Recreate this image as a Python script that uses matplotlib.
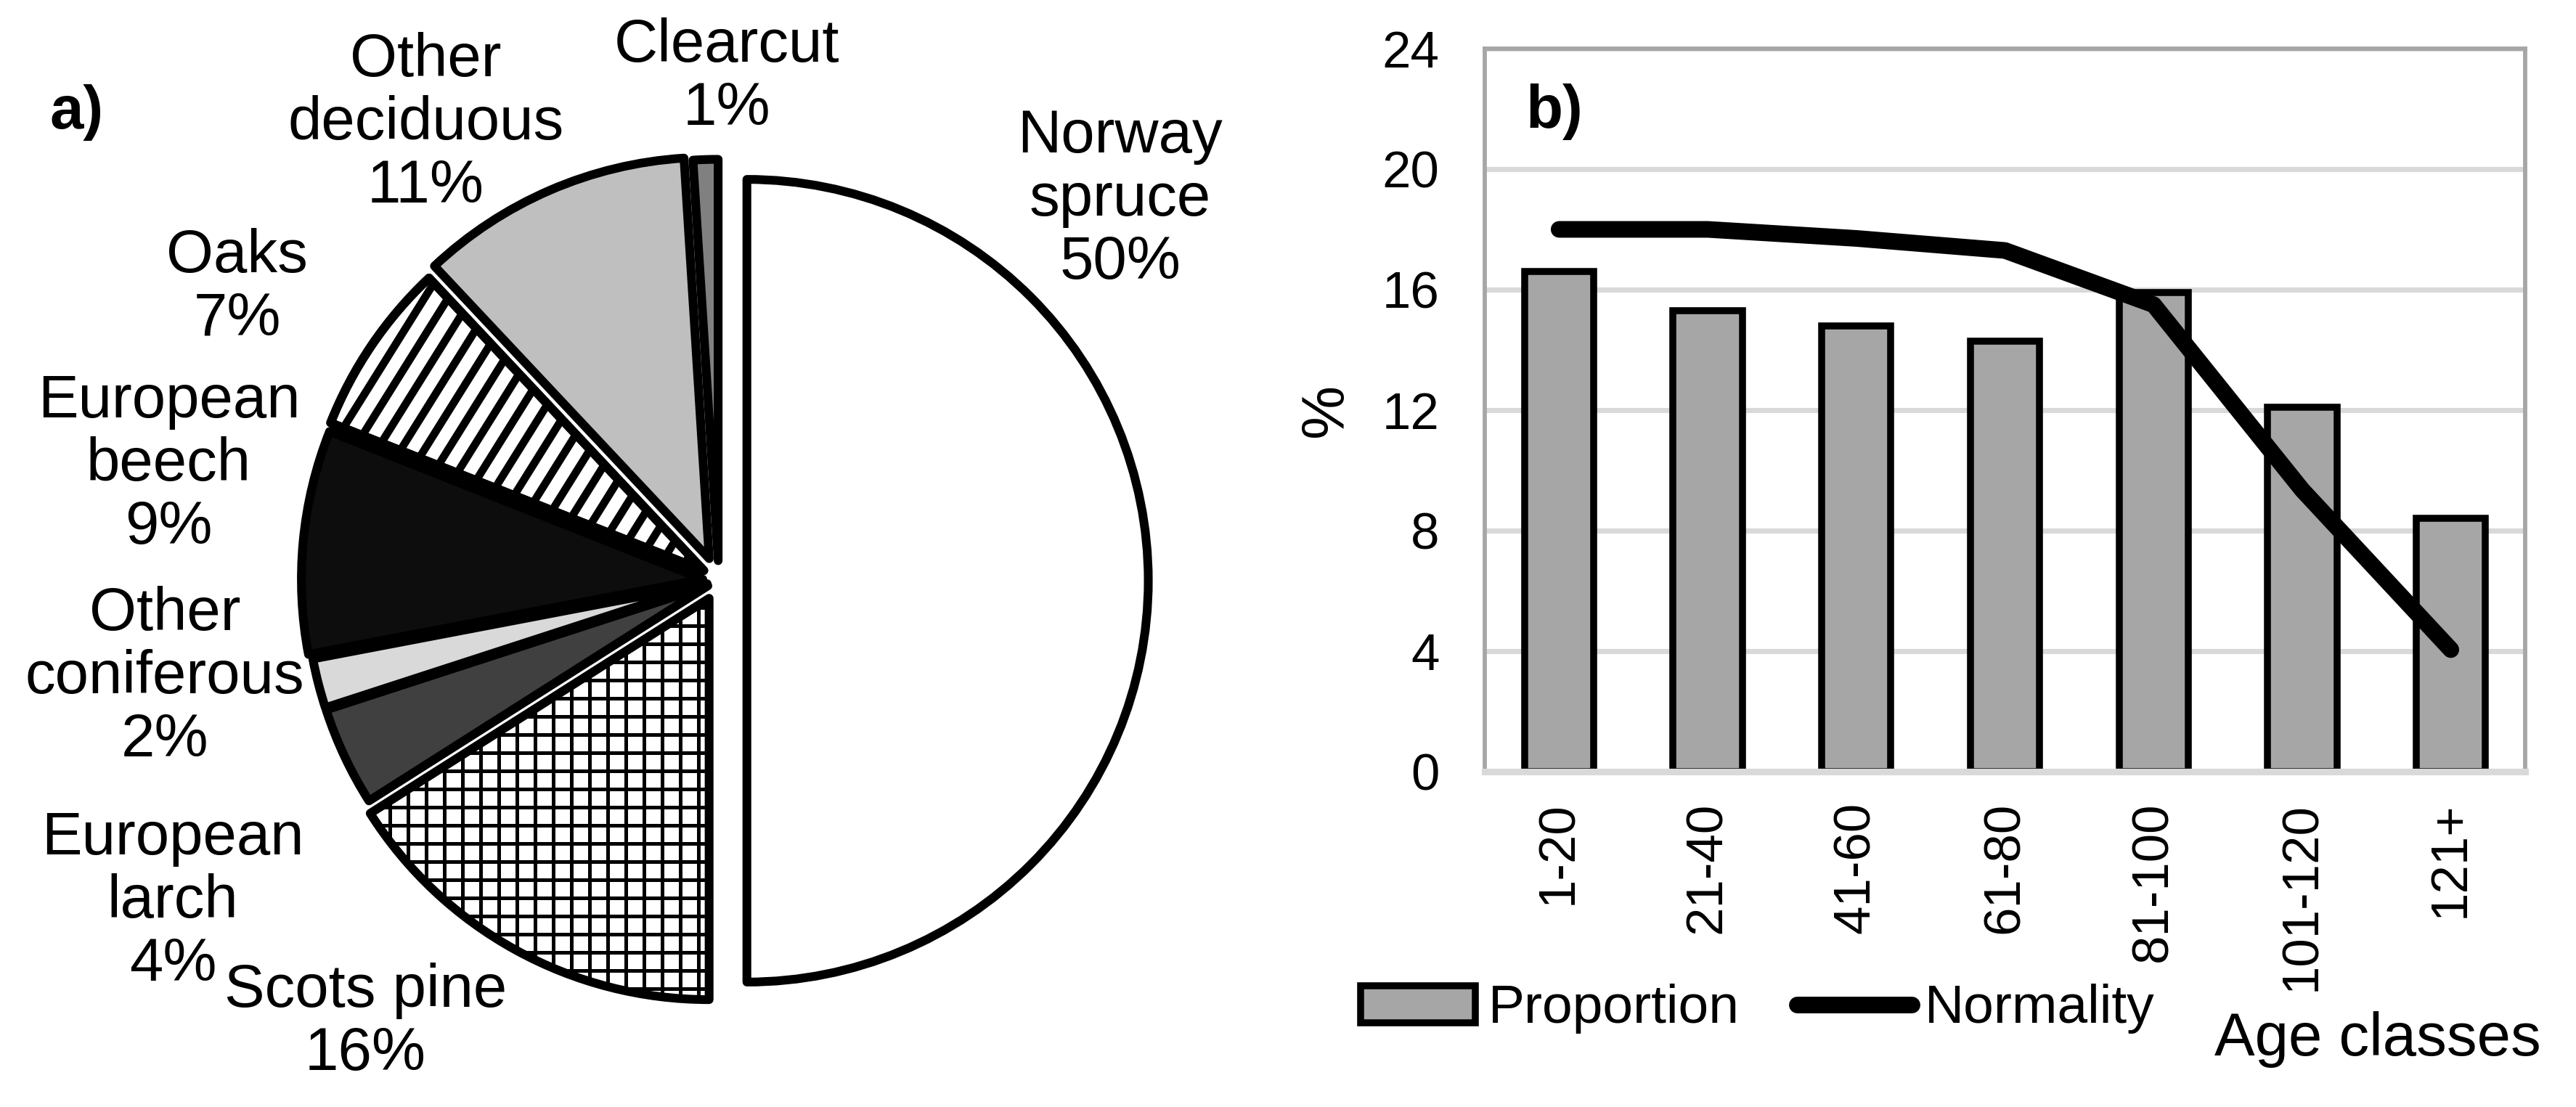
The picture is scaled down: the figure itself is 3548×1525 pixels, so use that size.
import matplotlib
matplotlib.use('Agg')
import matplotlib.pyplot as plt
from matplotlib.patches import Wedge
import numpy as np

plt.rcParams['font.family'] = ['Liberation Sans', 'DejaVu Sans']
plt.rcParams['hatch.linewidth'] = 1.2

# Pie data (a)
species = ['Norway\nspruce', 'Scots pine', 'European\nlarch', 'Other\nconiferous',
           'European\nbeech', 'Oaks', 'Other\ndeciduous', 'Clearcut']
shares = [50, 16, 4, 2, 9, 7, 11, 1]
pie_colors = ['white', 'white', '#404040', '#d9d9d9', '#0d0d0d', 'white', '#bfbfbf', '#808080']
pie_hatches = [None, '++', None, None, None, None, None, None]
explode = [0.07, 0.05, 0.03, 0.03, 0.04, 0.045, 0.06, 0.05]
# label centres in pie data units
label_pos = [(1.00, 0.95), (-0.88, -1.10), (-1.36, -0.80), (-1.38, -0.24),
             (-1.37, 0.29), (-1.20, 0.73), (-0.73, 1.14), (0.02, 1.255)]

# Bar data (b)
age_classes = ['1-20', '21-40', '41-60', '61-80', '81-100', '101-120', '121+']
proportion = [16.6, 15.3, 14.8, 14.3, 15.9, 12.1, 8.4]
normality = [18.0, 18.0, 17.7, 17.3, 15.5, 9.35, 4.05]

W, H = 3548, 1525
fig = plt.figure(figsize=(W / 300, H / 300), dpi=300)

# ---- a) pie ----
cx, cy, half = 990, 800, 774
ax1 = fig.add_axes([(cx - half) / W, 1 - (cy + half) / H, 2 * half / W, 2 * half / H])
wedges, _ = ax1.pie(shares, colors=pie_colors, explode=explode, startangle=90,
                    counterclock=False,
                    wedgeprops={'linewidth': 2.9, 'edgecolor': 'black', 'joinstyle': 'round'})
for w, h in zip(wedges, pie_hatches):
    if h:
        w.set_hatch(h)

# wide diagonal stripes for oaks
oak = wedges[5]
ox, oy = oak.center
ang = np.deg2rad(58)
d = np.array([np.cos(ang), np.sin(ang)])
n = np.array([-np.sin(ang), np.cos(ang)])
for t in np.arange(-1.2, 1.2, 0.05):
    p = np.array([ox, oy]) + t * n
    a, b = p - 1.3 * d, p + 1.3 * d
    ln, = ax1.plot([a[0], b[0]], [a[1], b[1]], color='black', lw=2.6, zorder=3)
    ln.set_clip_path(oak)
ax1.add_patch(Wedge(oak.center, oak.r, oak.theta1, oak.theta2, facecolor='none',
                    edgecolor='black', linewidth=2.9, joinstyle='round', zorder=4))

for lab, s, (x, y) in zip(species, shares, label_pos):
    ax1.text(x, y, f'{lab}\n{s}%', ha='center', va='center', fontsize=20, linespacing=1.15)
ax1.set_xlim(-1.4, 1.4)
ax1.set_ylim(-1.4, 1.4)
ax1.set_aspect('equal')
ax1.axis('off')
fig.text(106 / W, 1 - 155 / H, 'a)', fontsize=20, fontweight='bold', ha='center', va='center')

# ---- b) bars ----
ax2 = fig.add_axes([2045 / W, 1 - 1063 / H, (3478 - 2045) / W, (1063 - 67) / H])
x = np.arange(len(age_classes))
bars = ax2.bar(x, proportion, width=0.465, color='#a6a6a6', edgecolor='black',
               linewidth=2.3, label='Proportion', zorder=2)
line, = ax2.plot(x, normality, color='black', lw=5.5, solid_capstyle='round',
                 solid_joinstyle='round', label='Normality', zorder=3)
ax2.set_xlim(-0.5, 6.5)
ax2.set_ylim(0, 24)
ax2.set_yticks(range(0, 25, 4))
ax2.set_xticks(x)
ax2.set_xticklabels(age_classes, rotation=90, fontsize=17, va='top')
ax2.tick_params(axis='y', labelsize=17, length=0, pad=15)
ax2.tick_params(axis='x', length=0, pad=10)
ax2.yaxis.grid(True, color='#d9d9d9', lw=1.7)
ax2.set_axisbelow(True)
for s in ['left', 'right', 'top']:
    ax2.spines[s].set_color('#a6a6a6')
    ax2.spines[s].set_linewidth(1.4)
ax2.spines['bottom'].set_color('#d9d9d9')
ax2.spines['bottom'].set_linewidth(2.2)
ax2.text(0.067, 0.913, 'b)', transform=ax2.transAxes, fontsize=20, fontweight='bold',
         ha='center', va='center')
fig.text(1827 / W, 1 - 565 / H, '%', rotation=90, fontsize=20, ha='center', va='center')
fig.text(3500 / W, 1 - 1432 / H, 'Age classes', fontsize=20, ha='right', va='center')

ax2.legend(handles=[bars, line], loc='center left', bbox_to_anchor=(1874 / W, 1 - 1390 / H),
           bbox_transform=fig.transFigure, ncol=2, frameon=False, fontsize=18,
           handlelength=2.1, handleheight=0.67, handletextpad=0.25, columnspacing=1.05,
           borderpad=0, borderaxespad=0)

fig.savefig('out.png', dpi=300, facecolor='white')
